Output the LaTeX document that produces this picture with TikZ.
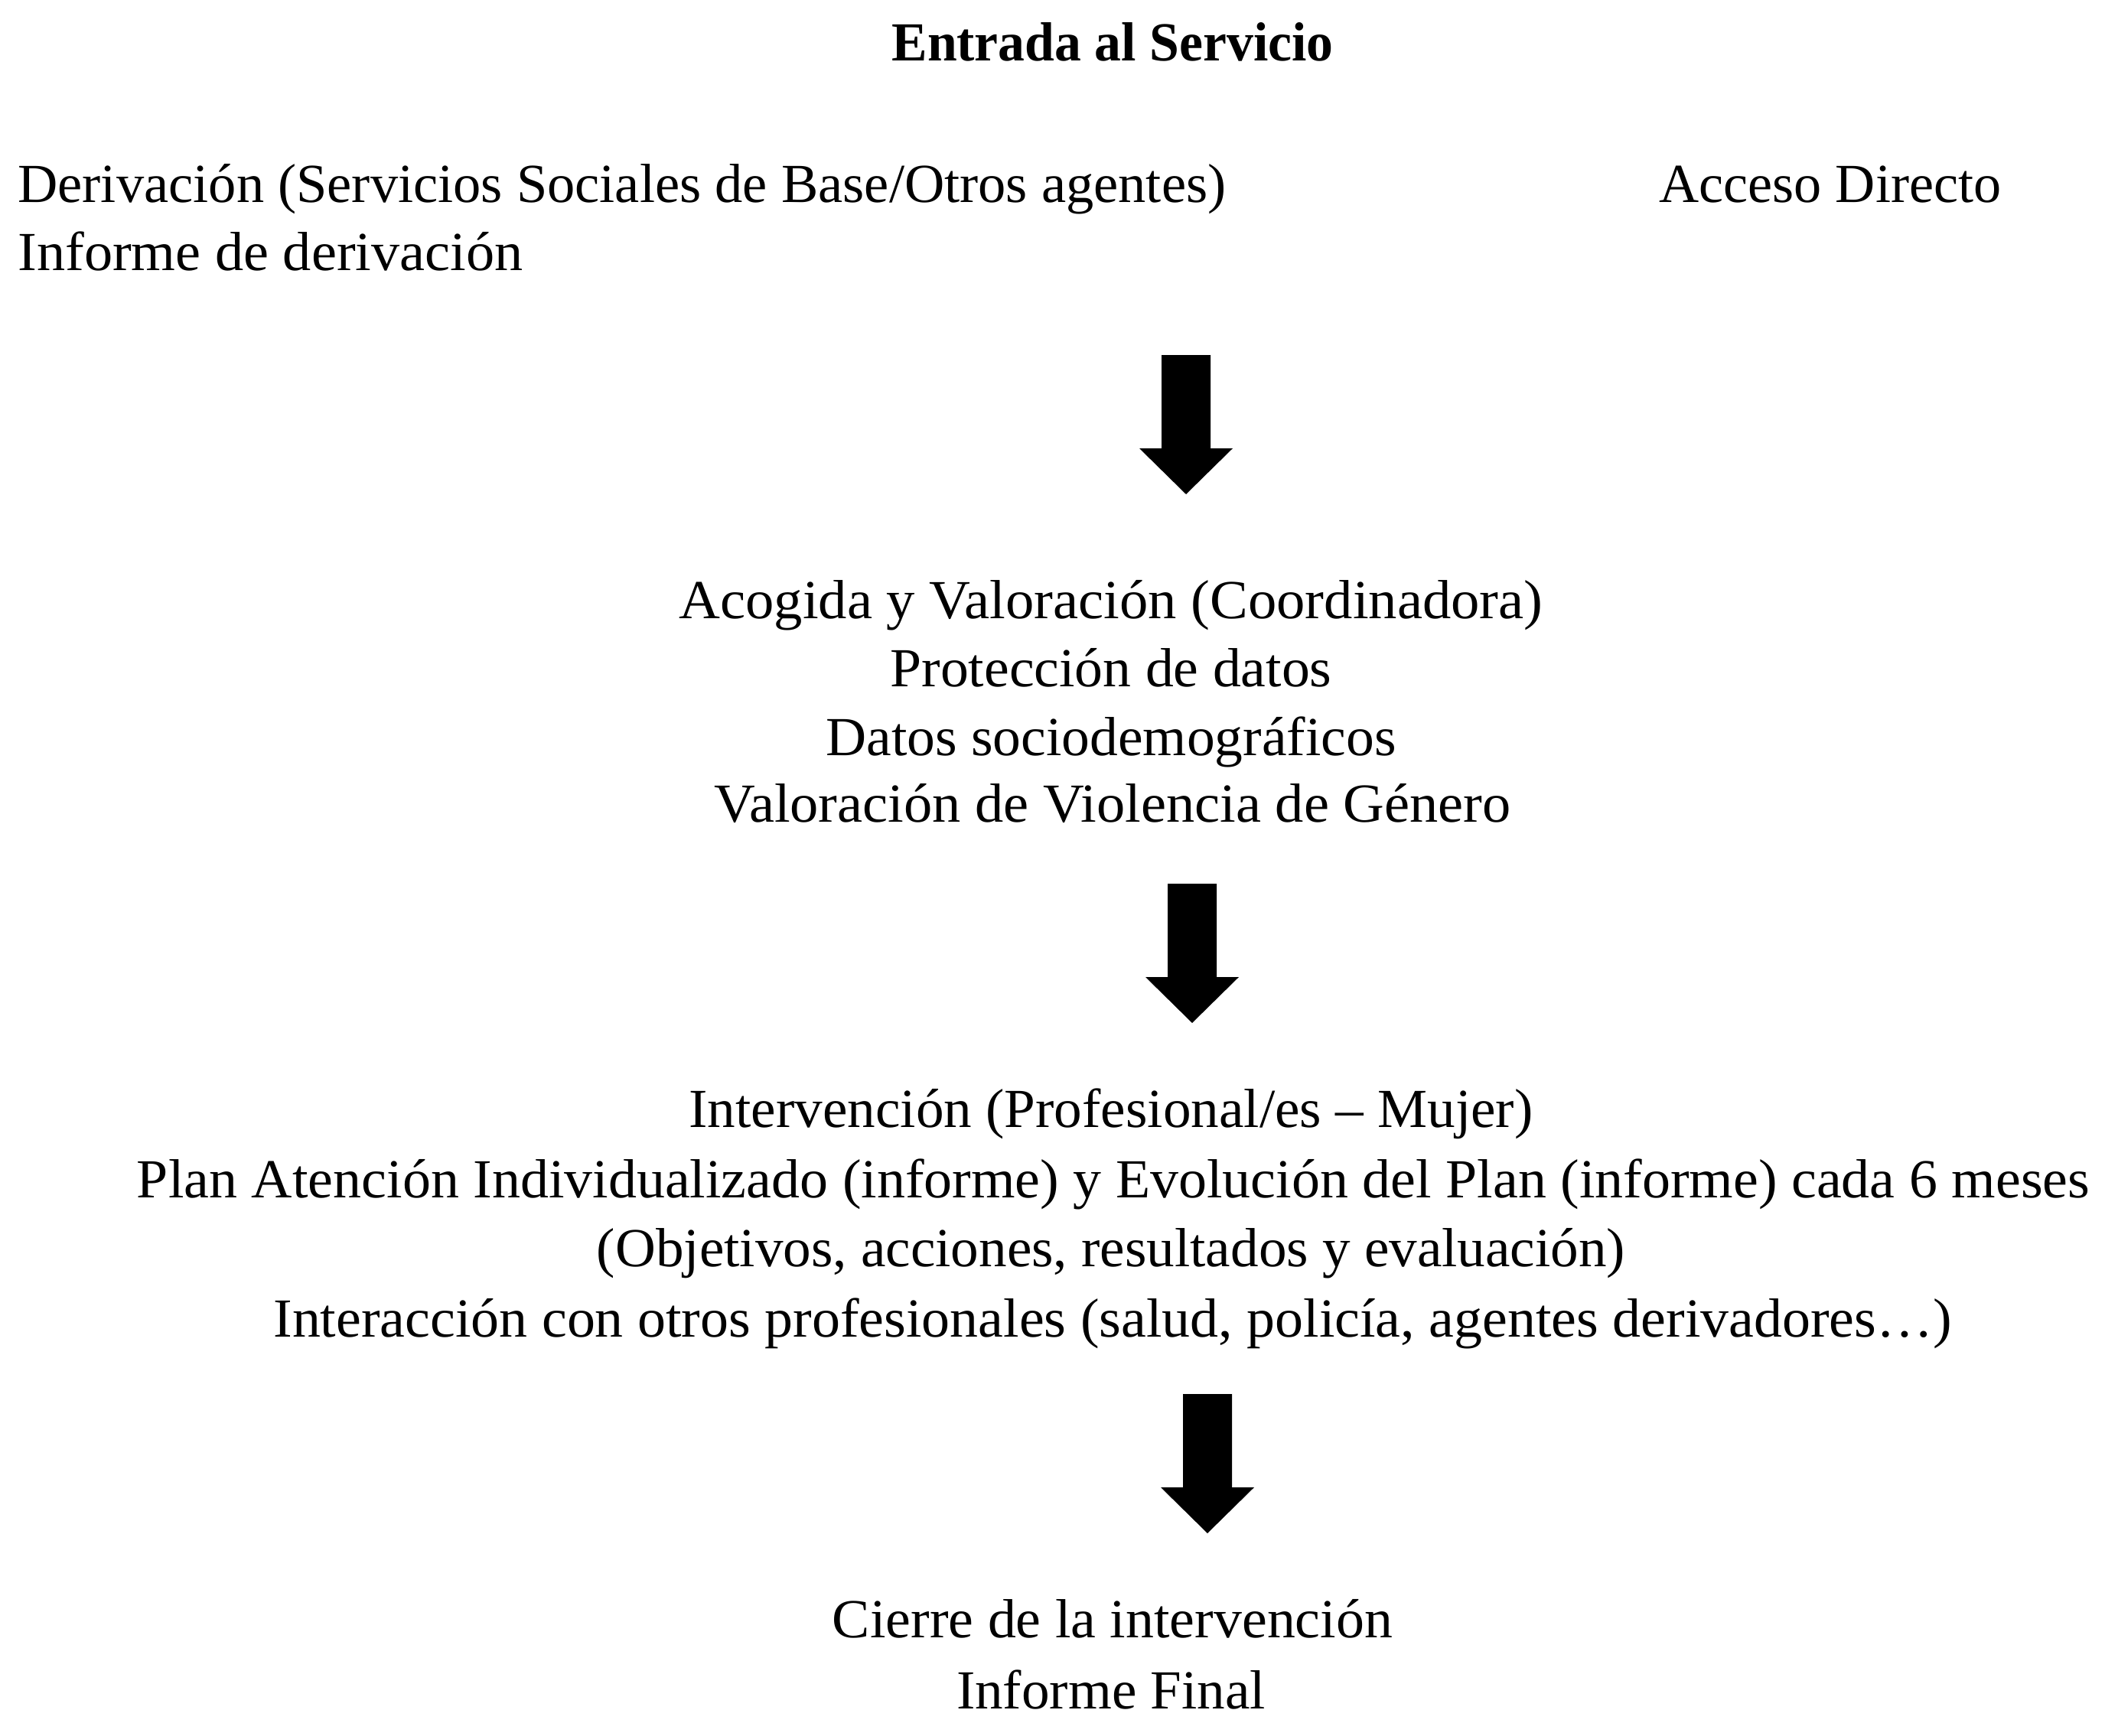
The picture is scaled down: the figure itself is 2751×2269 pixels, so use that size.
\documentclass[tikz,border=0pt]{standalone}
\usepackage{fontspec}
\setmainfont{Liberation Serif}
\usepackage{graphicx}
\newdimen\pxu \pxu=0.5pt
\newcommand\fitline[2]{\resizebox{#1\pxu}{\height}{#2}}
\tikzset{
  txt/.style={anchor=base, inner sep=0pt, font=\fontsize{36}{43}\selectfont},
  txtl/.style={txt, anchor=base west},
  ttl/.style={txt, font=\fontsize{36}{43}\selectfont\bfseries},
  downarrow/.pic={\fill[black] (-32,0) -- (32,0) -- (32,122) -- (61,122) -- (0,182) -- (-61,122) -- (-32,122) -- cycle;}
}
\begin{document}
\begin{tikzpicture}[x=0.5pt, y=-0.5pt]
\useasboundingbox[fill=white] (0,0) rectangle (2751,2269);
% title
\node[ttl] (title) at (1454,80) {\fitline{577}{Entrada al Servicio}};
% entry
\node[txtl] (deriv) at (23,264) {\fitline{1579}{Derivación (Servicios Sociales de Base/Otros agentes)}};
\node[txtl] (infderiv) at (23,353) {\fitline{660}{Informe de derivación}};
\node[txtl] (acceso) at (2168,264) {\fitline{447}{Acceso Directo}};
% arrow 1
\coordinate (arr1) at (1550,464);
\pic at (arr1) {downarrow};
% acogida
\node[txt] (acog1) at (1452,808) {\fitline{1129}{Acogida y Valoración (Coordinadora)}};
\node[txt] (acog2) at (1452,897) {\fitline{577}{Protección de datos}};
\node[txt] (acog3) at (1452,987) {\fitline{745}{Datos sociodemográficos}};
\node[txt] (acog4) at (1454,1074) {\fitline{1041}{Valoración de Violencia de Género}};
% arrow 2
\coordinate (arr2) at (1558,1155);
\pic at (arr2) {downarrow};
% intervencion
\node[txt] (int1) at (1452,1473) {\fitline{1103}{Intervención (Profesional/es – Mujer)}};
\node[txt] (int2) at (1455,1565) {\fitline{2552}{Plan Atención Individualizado (informe) y Evolución del Plan (informe) cada 6 meses}};
\node[txt] (int3) at (1452,1655) {\fitline{1344}{(Objetivos, acciones, resultados y evaluación)}};
\node[txt] (int4) at (1454,1747) {\fitline{2193}{Interacción con otros profesionales (salud, policía, agentes derivadores…)}};
% arrow 3
\coordinate (arr3) at (1578,1822);
\pic at (arr3) {downarrow};
% cierre
\node[txt] (cierre1) at (1454,2140) {\fitline{732}{Cierre de la intervención}};
\node[txt] (cierre2) at (1452,2233) {\fitline{404}{Informe Final}};
\end{tikzpicture}
\end{document}
